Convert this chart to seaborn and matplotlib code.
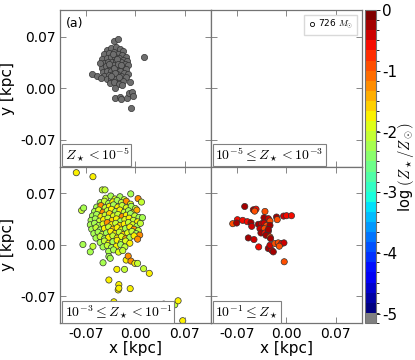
import numpy as np
import matplotlib
matplotlib.use('Agg')
import matplotlib.pyplot as plt
import matplotlib.colors as mcolors
from matplotlib.lines import Line2D
import seaborn as sns

# ---- panel (a) top-left: Z < 1e-5 (grey) ----
tl_x = [-0.041, -0.034, -0.028, -0.022, -0.017,
        -0.044, -0.038, -0.031, -0.025, -0.019, -0.014,
        -0.047, -0.041, -0.035, -0.029, -0.023, -0.017, -0.012,
        -0.045, -0.039, -0.033, -0.027, -0.021, -0.015, -0.010,
        -0.048, -0.042, -0.036, -0.030, -0.024, -0.018, -0.013,
        -0.046, -0.040, -0.034, -0.028, -0.022, -0.016, -0.011,
        -0.044, -0.038, -0.032, -0.026, -0.020, -0.014,
        -0.040, -0.034, -0.028, -0.022, -0.017,
        -0.036, -0.030, -0.024, -0.019,
        -0.032, -0.026, -0.031, -0.025, -0.037, -0.020, -0.029, -0.035, -0.023,
        -0.0307, -0.0249, 0.0118, -0.0499, -0.0622, -0.0547, -0.0495, -0.029,
        -0.0297, -0.0226, -0.0202, -0.0122, -0.0085, -0.0047, -0.0038, -0.0070, -0.0075]
tl_y = [0.052, 0.055, 0.056, 0.053, 0.050,
        0.046, 0.048, 0.049, 0.047, 0.045, 0.043,
        0.040, 0.041, 0.042, 0.043, 0.041, 0.039, 0.037,
        0.034, 0.036, 0.036, 0.037, 0.035, 0.033, 0.031,
        0.028, 0.030, 0.030, 0.031, 0.029, 0.028, 0.026,
        0.022, 0.024, 0.024, 0.025, 0.023, 0.021, 0.020,
        0.017, 0.018, 0.019, 0.019, 0.017, 0.015,
        0.012, 0.013, 0.013, 0.011, 0.010,
        0.007, 0.008, 0.006, 0.004,
        0.046, 0.040, 0.027, 0.033, 0.033, 0.031, 0.021, 0.016, 0.015,
        0.064, 0.0673, 0.042, 0.0347, 0.019, 0.0173, 0.0146, 0.0008,
        -0.0127, -0.0114, -0.0146, -0.0127, -0.0068, -0.0055, -0.0100, -0.0262, 0.0086]

# ---- bottom-left: 1e-3 <= Z < 1e-1 ----
bl_x = [-0.042, -0.035, -0.029, -0.022, -0.016,
        -0.050, -0.044, -0.038, -0.032, -0.026, -0.020, -0.013, -0.007,
        -0.055, -0.049, -0.043, -0.037, -0.031, -0.025, -0.019, -0.013, -0.006, 0.000,
        -0.058, -0.052, -0.046, -0.040, -0.034, -0.028, -0.022, -0.016, -0.010, -0.004, 0.002,
        -0.061, -0.055, -0.049, -0.043, -0.037, -0.031, -0.025, -0.019, -0.013, -0.007, -0.001, 0.005,
        -0.063, -0.057, -0.051, -0.045, -0.039, -0.033, -0.027, -0.021, -0.015, -0.009, -0.003, 0.003,
        -0.064, -0.058, -0.052, -0.046, -0.040, -0.034, -0.028, -0.022, -0.016, -0.010, -0.004, 0.002, 0.007,
        -0.062, -0.056, -0.050, -0.044, -0.038, -0.032, -0.026, -0.020, -0.014, -0.008, -0.002, 0.004,
        -0.059, -0.053, -0.047, -0.041, -0.035, -0.029, -0.023, -0.017, -0.011, -0.005, 0.001, 0.006,
        -0.056, -0.050, -0.044, -0.038, -0.032, -0.026, -0.020, -0.014, -0.008, -0.002,
        -0.050, -0.044, -0.038, -0.032, -0.026, -0.020, -0.014, -0.008,
        -0.046, -0.040, -0.034, -0.027, -0.021, -0.015,
        -0.038, -0.031, -0.024, -0.018,
        -0.0839, -0.0603, -0.047, -0.0432, -0.0067, 0.0037, 0.0085, 0.0099, 0.003,
        -0.0764, -0.0735, -0.0745, -0.0641, -0.0603, -0.046, -0.0377, -0.0358,
        -0.0264, -0.0155, -0.0132, -0.0103, -0.0064, -0.0008, 0.003, 0.0115, 0.0196,
        -0.0377, -0.0236, -0.0245, -0.0236, -0.0075, -0.0306, 0.0099, 0.0401,
        0.0557, 0.0604, 0.0115, 0.067]
bl_y = [0.063, 0.066, 0.062, 0.065, 0.061,
        0.057, 0.059, 0.056, 0.058, 0.060, 0.057, 0.059, 0.055,
        0.051, 0.053, 0.050, 0.052, 0.054, 0.051, 0.053, 0.050, 0.052, 0.049,
        0.045, 0.047, 0.044, 0.046, 0.048, 0.045, 0.047, 0.044, 0.046, 0.043, 0.047,
        0.039, 0.041, 0.038, 0.040, 0.042, 0.039, 0.041, 0.038, 0.040, 0.042, 0.039, 0.037,
        0.033, 0.035, 0.032, 0.034, 0.036, 0.033, 0.035, 0.032, 0.034, 0.036, 0.033, 0.031,
        0.027, 0.029, 0.026, 0.028, 0.030, 0.027, 0.029, 0.026, 0.028, 0.030, 0.027, 0.025, 0.029,
        0.021, 0.023, 0.020, 0.022, 0.024, 0.021, 0.023, 0.020, 0.022, 0.024, 0.021, 0.019,
        0.015, 0.017, 0.014, 0.016, 0.018, 0.015, 0.017, 0.014, 0.016, 0.018, 0.015, 0.013,
        0.009, 0.011, 0.008, 0.010, 0.012, 0.009, 0.011, 0.008, 0.010, 0.012,
        0.003, 0.005, 0.002, 0.004, 0.006, 0.003, 0.005, 0.002,
        -0.003, -0.001, -0.004, -0.002, 0.000, -0.003,
        -0.009, -0.007, -0.010, -0.008,
        0.0976, 0.0922, 0.0743, 0.0743, 0.0689, 0.0625, 0.0578, 0.0367, 0.0075,
        0.0464, 0.0498, 0.0003, -0.0097, -0.0022, -0.0245, -0.016, -0.0184,
        -0.0334, -0.0334, -0.0208, -0.0154, -0.0222, -0.0253, -0.0253, -0.0325, -0.0388,
        -0.0478, -0.0541, -0.0613, -0.059, -0.0595, -0.0774, -0.085, -0.0805,
        -0.0814, -0.076, -0.103, -0.103]
bl_logz = [-2.1, -2.25, -1.9, -2.2, -2.0,
           -2.3, -2.0, -2.2, -1.8, -2.25, -2.1, -1.2, -1.9,
           -2.2, -1.3, -2.0, -1.8, -2.25, -1.7, -2.1, -1.9, -2.3, -2.0,
           -2.25, -1.9, -1.2, -2.1, -1.7, -2.2, -1.8, -2.0, -2.25, -1.9, -1.4,
           -2.3, -2.2, -1.8, -2.0, -1.6, -1.9, -2.1, -1.3, -1.8, -2.2, -2.0, -2.25,
           -2.25, -2.3, -2.1, -1.7, -2.0, -1.6, -1.8, -2.2, -1.9, -1.7, -2.1, -1.8,
           -2.3, -2.2, -2.25, -1.9, -1.3, -1.7, -2.0, -1.6, -1.8, -2.1, -1.9, -2.2, -2.0,
           -2.25, -2.1, -2.3, -1.8, -2.0, -1.5, -1.7, -1.9, -2.2, -1.8, -1.3, -2.1,
           -2.2, -2.3, -2.0, -2.25, -1.8, -1.7, -2.1, -1.6, -1.9, -2.0, -2.2, -1.3,
           -2.3, -2.1, -2.25, -1.8, -2.0, -1.7, -1.9, -1.4, -2.2, -1.8,
           -2.25, -2.0, -1.8, -2.2, -1.7, -2.1, -1.9, -1.8,
           -2.25, -2.1, -2.3, -1.8, -2.2, -2.0,
           -2.3, -2.2, -1.9, -2.1,
           -1.75, -1.7, -2.0, -2.0, -2.25, -1.3, -2.0, -2.2, -1.3,
           -2.1, -2.2, -2.3, -2.3, -2.0, -2.25, -2.2, -2.25,
           -1.7, -2.0, -1.8, -1.3, -1.25, -1.8, -2.0, -2.0, -1.8,
           -1.75, -1.8, -1.75, -1.8, -1.8, -1.7, -1.8, -1.75,
           -2.0, -1.8, -1.9, -1.7]

# ---- bottom-right: Z >= 1e-1 ----
br_x = [-0.0591, -0.0469, -0.0431, -0.0450, -0.0304, -0.0318, -0.0256, -0.0233,
        -0.014, -0.013, -0.004, 0.0002, 0.0072, -0.0695, -0.0761, -0.0705,
        -0.062, -0.0554, -0.0502, -0.0492, -0.0398, -0.0351, -0.0318, -0.028,
        -0.0233, -0.0375, -0.0313, -0.0361, -0.0304, -0.0257, -0.029, -0.0233,
        -0.0257, -0.054, -0.046, -0.0393, -0.0224, -0.0257, -0.021, -0.0186,
        -0.0233, -0.0163, -0.0116, -0.0068, -0.0035, -0.0101, -0.0031]
br_y = [0.0518, 0.0473, 0.0482, 0.0455, 0.0451, 0.0366, 0.0353, 0.0321,
        0.0375, 0.034, 0.0388, 0.0393, 0.0393, 0.0339, 0.0285, 0.0294,
        0.0330, 0.0312, 0.0299, 0.0249, 0.0276, 0.0285, 0.0294, 0.0262,
        0.0262, 0.0217, 0.0217, 0.0159, 0.0159, 0.0182, 0.0128, 0.0105,
        0.0205, 0.0092, 0.0070, -0.003, 0.0083, -0.0051, -0.0074, -0.0097,
        -0.0007, 0.0016, 0.0025, 0.0016, 0.0025, -0.002, -0.0231]
br_logz = [-0.3, -0.3, -0.5, -0.85, -0.9, -0.3, -0.4, -0.85,
           -0.3, -0.9, -0.4, -0.6, -0.5, -0.5, -0.85, -0.3,
           -0.6, -0.5, -0.3, -0.4, -0.3, -0.35, -0.4, -0.85,
           -0.3, -0.4, -0.9, -0.3, -0.5, -0.4, -0.3, -0.85,
           -0.3, -0.3, -0.4, -0.5, -0.3, -0.3, -0.4, -0.3,
           -0.35, -0.85, -0.9, -0.6, -0.4, -0.9, -0.85]

panel_labels = [r'$Z_\star < 10^{-5}$', r'$10^{-5} \leq Z_\star < 10^{-3}$',
                r'$10^{-3} \leq Z_\star < 10^{-1}$', r'$10^{-1} \leq Z_\star$']
cbar_ticks = [0, -1, -2, -3, -4, -5]
cbar_ticklabels = ['0', '-1', '-2', '-3', '-4', '-5']
axis_ticks = [-0.07, 0.0, 0.07]

plt.rcParams['mathtext.fontset'] = 'cm'
plt.rcParams['axes.unicode_minus'] = False
plt.rcParams['font.family'] = ['DejaVu Sans']

# discrete jet colour bar with a grey bottom bin
colors = [(0.5, 0.5, 0.5, 1.0)] + list(plt.cm.jet(np.linspace(0, 1, 30)))
cmap = mcolors.ListedColormap(colors)
bounds = np.linspace(-5.15, 0, 32)
norm = mcolors.BoundaryNorm(bounds, cmap.N)

fig, axes = plt.subplots(2, 2, figsize=(4.15, 3.6), dpi=100, sharex=True, sharey=True)
fig.subplots_adjust(left=0.1446, right=0.872, bottom=0.103, top=0.972, wspace=0, hspace=0)

ax_tl, ax_tr = axes[0]
ax_bl, ax_br = axes[1]

sns.scatterplot(x=tl_x, y=tl_y, color='#6e6e6e', s=20, edgecolor='#333333',
                linewidth=0.5, ax=ax_tl, legend=False)
sns.scatterplot(x=bl_x, y=bl_y, hue=bl_logz, palette=cmap, hue_norm=norm, s=20,
                edgecolor='#333333', linewidth=0.5, ax=ax_bl, legend=False)
sns.scatterplot(x=br_x, y=br_y, hue=br_logz, palette=cmap, hue_norm=norm, s=20,
                edgecolor='#333333', linewidth=0.5, ax=ax_br, legend=False)

for ax, lab in zip([ax_tl, ax_tr, ax_bl, ax_br], panel_labels):
    ax.set_xlim(-0.107, 0.107)
    ax.set_ylim(-0.106, 0.106)
    ax.set_xticks(axis_ticks)
    ax.set_yticks(axis_ticks)
    ax.xaxis.set_major_formatter(matplotlib.ticker.FormatStrFormatter('%.2f'))
    ax.yaxis.set_major_formatter(matplotlib.ticker.FormatStrFormatter('%.2f'))
    ax.tick_params(direction='in', top=True, right=True, length=4, width=0.6,
                   color='0.45', labelsize=10, pad=3)
    for sp in ax.spines.values():
        sp.set_color('0.45')
        sp.set_linewidth(0.9)
    ax.text(0.03, 0.015, lab, transform=ax.transAxes, fontsize=10, ha='left', va='bottom',
            bbox=dict(facecolor='white', edgecolor='0.5', boxstyle='square,pad=0.15', linewidth=0.8))
    ax.set_xlabel('')
    ax.set_ylabel('')

ax_tl.text(0.04, 0.955, '(a)', transform=ax_tl.transAxes, fontsize=9, va='top')

handle = Line2D([], [], marker='o', linestyle='none', markersize=3,
                markerfacecolor='white', markeredgecolor='k', markeredgewidth=0.6)
ax_tr.legend([handle], [r'726 $M_{\odot}$'], loc='upper right', fontsize=6.5,
             handletextpad=0.2, handlelength=1.0, borderpad=0.4, fancybox=False,
             edgecolor='0.85', framealpha=1)

ax_bl.set_xlabel('x [kpc]', fontsize=11, labelpad=0)
ax_br.set_xlabel('x [kpc]', fontsize=11, labelpad=0)
ax_tl.set_ylabel('y [kpc]', fontsize=11)
ax_bl.set_ylabel('y [kpc]', fontsize=11)

cax = fig.add_axes([0.8795, 0.103, 0.027, 0.869])
sm = matplotlib.cm.ScalarMappable(norm=norm, cmap=cmap)
cb = fig.colorbar(sm, cax=cax, ticks=cbar_ticks)
cb.ax.set_yticklabels(cbar_ticklabels)
cb.ax.tick_params(labelsize=11, length=3, width=0.6, pad=1)
cb.outline.set_edgecolor('0.45')
cb.set_label(r'log $(Z_\star/Z_\odot)$', fontsize=10.5, labelpad=-1)

plt.savefig('out.png', dpi=100)
